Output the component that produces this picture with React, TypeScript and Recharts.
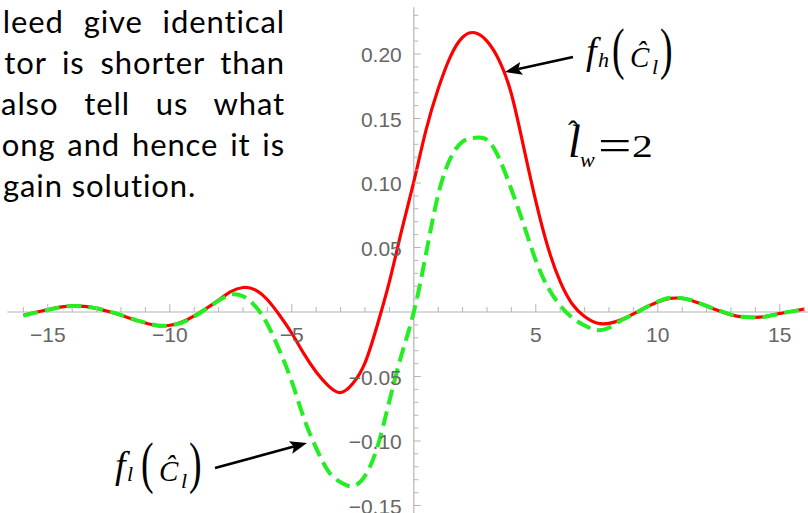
import React from "react";
import { LineChart, Line, XAxis, YAxis, ReferenceLine, ReferenceDot } from "recharts";

// sample positions (every 0.5) and the two curves
const xs = [
  -16, -15.5, -15, -14.5, -14, -13.5, -13, -12.5, -12, -11.5, -11, -10.5, -10, -9.5, -9, -8.5,
  -8, -7.5, -7, -6.5, -6, -5.5, -5, -4.5, -4, -3.5, -3, -2.5, -2, -1.5, -1, -0.5,
  0, 0.5, 1, 1.5, 2, 2.5, 3, 3.5, 4, 4.5, 5, 5.5, 6, 6.5, 7, 7.5,
  8, 8.5, 9, 9.5, 10, 10.5, 11, 11.5, 12, 12.5, 13, 13.5, 14, 14.5, 15, 15.5, 16,
];
const fh = [
  -0.0025, -0.0003, 0.0018, 0.0038, 0.0048, 0.0043, 0.0028, 0.0003, -0.0025, -0.0058, -0.0085, -0.0105, -0.0103, -0.0078, -0.003, 0.0028,
  0.0092, 0.0158, 0.019, 0.0172, 0.0095, -0.0025, -0.0165, -0.0325, -0.0465, -0.0573, -0.0625, -0.0555, -0.0395, -0.0105, 0.0235, 0.063,
  0.101, 0.141, 0.173, 0.198, 0.213, 0.2165, 0.21, 0.195, 0.169, 0.128, 0.086, 0.05, 0.0235, 0.006, -0.0035, -0.0085,
  -0.0088, -0.006, -0.0015, 0.0035, 0.0078, 0.0105, 0.0105, 0.0082, 0.0045, 0.001, -0.0022, -0.0038, -0.0042, -0.0032, -0.0012, 0.0006, 0.0022,
];
const fl = [
  -0.0028, -0.0005, 0.0016, 0.0036, 0.0047, 0.0043, 0.0029, 0.0005, -0.0023, -0.0055, -0.0083, -0.0105, -0.0104, -0.0082, -0.0035, 0.0025,
  0.0088, 0.0135, 0.0122, 0.0045, -0.0095, -0.03, -0.054, -0.0825, -0.1055, -0.1235, -0.132, -0.135, -0.127, -0.105, -0.069, -0.033,
  0, 0.045, 0.091, 0.119, 0.132, 0.135, 0.1335, 0.119, 0.095, 0.068, 0.04, 0.019, 0.005, -0.0045, -0.0105, -0.014,
  -0.0122, -0.0065, -0.0018, 0.0035, 0.008, 0.011, 0.0107, 0.0084, 0.0047, 0.0012, -0.002, -0.0037, -0.0042, -0.0033, -0.0013, 0.0005, 0.0021,
];

const xMajor = [-15, -10, -5, 5, 10, 15];
const xMajorLabels = ["\u221215", "\u221210", "\u22125", "5", "10", "15"];
const xMinor = [-16, -14, -13, -12, -11, -9, -8, -7, -6, -4, -3, -2, -1, 1, 2, 3, 4, 6, 7, 8, 9, 11, 12, 13, 14, 16];
const yMajor = [-0.15, -0.1, -0.05, 0.05, 0.1, 0.15, 0.2];
const yMajorLabels = ["\u22120.15", "\u22120.10", "\u22120.05", "0.05", "0.10", "0.15", "0.20"];
const yMinor = [
  -0.14, -0.13, -0.12, -0.11, -0.09, -0.08, -0.07, -0.06, -0.04, -0.03, -0.02, -0.01,
  0.01, 0.02, 0.03, 0.04, 0.06, 0.07, 0.08, 0.09, 0.11, 0.12, 0.13, 0.14, 0.16, 0.17, 0.18, 0.19, 0.21, 0.22, 0.23,
];

// body text beside the plot; each line justified to the same right edge
const paragraph = ["leed give identical", "tor is shorter than", "also tell us what", "ong and hence it is", "gain solution."];
const paragraphSpacing = [11, 7, 17, 3];

const data = xs.map((x, i) => ({ x, fh: fh[i], fl: fl[i] }));

const axisGray = "#b4b4b4";
const labelGray = "#666666";
const tickFont = "'Liberation Sans', Arial, sans-serif";
const mathFont = "'Liberation Serif', 'Times New Roman', serif";

function xTick(major: boolean, label?: string) {
  return (p: any) => (
    <g>
      <line x1={p.cx} y1={p.cy} x2={p.cx} y2={p.cy - (major ? 8 : 5)} stroke={axisGray} strokeWidth={1} />
      {label && (
        <text x={p.cx} y={p.cy + 30} textAnchor="middle" fontFamily={tickFont} fontSize={21} fill={labelGray}>
          {label}
        </text>
      )}
    </g>
  );
}

function yTick(major: boolean, label?: string) {
  return (p: any) => (
    <g>
      <line x1={p.cx} y1={p.cy} x2={p.cx + (major ? 7 : 4.5)} y2={p.cy} stroke={axisGray} strokeWidth={1} />
      {label && (
        <text x={p.cx - 12} y={p.cy + 8.5} textAnchor="end" fontFamily={tickFont} fontSize={21} fill={labelGray}>
          {label}
        </text>
      )}
    </g>
  );
}

function Arrow({ x1, y1, x2, y2 }: { x1: number; y1: number; x2: number; y2: number }) {
  const a = Math.atan2(y2 - y1, x2 - x1);
  const c = Math.cos(a);
  const s = Math.sin(a);
  const len = 17;
  const hw = 6.5;
  const bx = x2 - len * c;
  const by = y2 - len * s;
  const nx = x2 - len * 0.8 * c;
  const ny = y2 - len * 0.8 * s;
  return (
    <g>
      <line x1={x1} y1={y1} x2={nx} y2={ny} stroke="#000" strokeWidth={2.6} />
      <polygon
        points={`${x2},${y2} ${bx + hw * s},${by - hw * c} ${nx},${ny} ${bx - hw * s},${by + hw * c}`}
        fill="#000"
      />
    </g>
  );
}

// f_sub( C-hat _l ) laid out like the typeset label
function FLabel({ x, y, sub }: { x: number; y: number; sub: string }) {
  return (
    <g style={{ fontFamily: mathFont }} fill="#000">
      <text x={x} y={y} fontSize={38} fontStyle="italic">f</text>
      <text x={x + 12} y={y + 3} fontSize={22} fontStyle="italic">{sub}</text>
      <text transform={`translate(${x + 26},${y + 4}) scale(0.7,1.05)`} fontSize={54}>(</text>
      <text x={x + 44} y={y + 3} fontSize={29} fontStyle="italic">{"\u0108"}</text>
      <text x={x + 66} y={y + 10} fontSize={22} fontStyle="italic">l</text>
      <text transform={`translate(${x + 74},${y + 4}) scale(0.7,1.05)`} fontSize={54}>)</text>
    </g>
  );
}

export default function App() {
  return (
    <div style={{ position: "absolute", left: 0, top: 0, width: 808, height: 513, overflow: "hidden", background: "#fff" }}>
      <div style={{ position: "absolute", left: 0, top: 0 }}>
        <LineChart width={821} height={519} data={data} margin={{ top: 7.3, right: 0.7, bottom: 0.6, left: 7.3 }}>
          <XAxis type="number" dataKey="x" domain={[-16.66, 16.66]} allowDataOverflow hide />
          <YAxis type="number" domain={[-0.16, 0.2362]} allowDataOverflow hide />
          <ReferenceLine y={0} stroke={axisGray} strokeWidth={1.2} />
          <ReferenceLine x={0} stroke={axisGray} strokeWidth={1.2} />
          {xMinor.map((v) => (
            <ReferenceDot key={`xm${v}`} x={v} y={0} shape={xTick(false)} />
          ))}
          {xMajor.map((v, i) => (
            <ReferenceDot key={`xM${v}`} x={v} y={0} shape={xTick(true, xMajorLabels[i])} />
          ))}
          {yMinor.map((v) => (
            <ReferenceDot key={`ym${v}`} x={0} y={v} shape={yTick(false)} />
          ))}
          {yMajor.map((v, i) => (
            <ReferenceDot key={`yM${v}`} x={0} y={v} shape={yTick(true, yMajorLabels[i])} />
          ))}
          <Line
            type="natural"
            dataKey="fh"
            stroke="#ff0000"
            strokeWidth={3.2}
            dot={false}
            isAnimationActive={false}
          />
          <Line
            type="natural"
            dataKey="fl"
            stroke="#22ee22"
            strokeWidth={4}
            strokeDasharray="15 7"
            dot={false}
            isAnimationActive={false}
          />
        </LineChart>
      </div>
      <svg width={808} height={513} style={{ position: "absolute", left: 0, top: 0 }}>
        <g style={{ fontFamily: "Lato, 'Open Sans', sans-serif" }} fontSize={31} letterSpacing={0.9} fill="#000">
          {paragraph.slice(0, 4).map((line, i) => (
            <text key={line} x={285} y={33 + i * 41} textAnchor="end" wordSpacing={paragraphSpacing[i]}>
              {line}
            </text>
          ))}
          <text x={3} y={197}>{paragraph[4]}</text>
        </g>
        <FLabel x={586} y={64} sub="h" />
        <Arrow x1={573} y1={57} x2={505} y2={72} />
        <FLabel x={115} y={478} sub="l" />
        <Arrow x1={215} y1={468} x2={307} y2={443} />
        <g style={{ fontFamily: mathFont }} fill="#000">
          <text x={568} y={157} fontSize={46} fontStyle="italic">l</text>
          <text x={568} y={141} fontSize={30}>{"\u02C6"}</text>
          <text x={580} y={167} fontSize={22} fontStyle="italic">w</text>
          <text transform="translate(598,160) scale(1.35,1)" fontSize={44}>=</text>
          <text transform="translate(632,157) scale(1.3,1)" fontSize={32}>2</text>
        </g>
      </svg>
    </div>
  );
}
